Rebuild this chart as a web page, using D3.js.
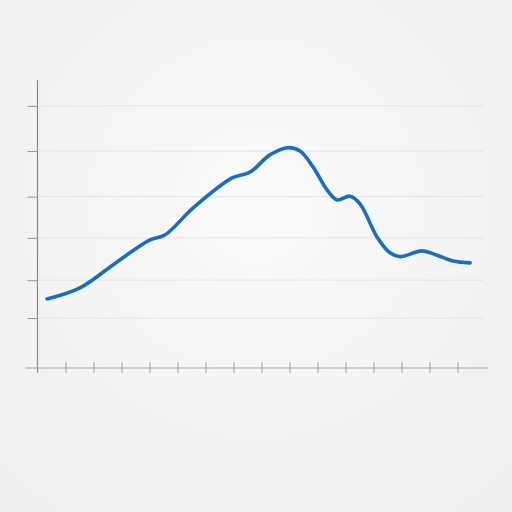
<!DOCTYPE html>
<html><head><meta charset="utf-8">
<script src="https://cdn.jsdelivr.net/npm/d3@7"></script>
<style>html,body{margin:0;padding:0;background:#f6f6f6;}svg{display:block;}</style>
</head><body>
<svg id="c" width="512" height="512"></svg>
<script>
// Data (x in category units, y in value units)
const xValues = [0.34, 1.52, 2.84, 4.02, 4.55, 5.55, 6.95, 7.59, 8.3, 8.95, 9.375, 9.84, 10.34, 10.7, 11.16, 11.52, 12.125, 12.59, 12.95, 13.73, 14.27, 14.84, 15.45];
const yValues = [14.4, 16.7, 22.1, 26.7, 27.7, 33.3, 39.6, 40.8, 44.4, 45.9, 45.2, 41.9, 37.1, 35.0, 35.8, 34.2, 27.3, 24.0, 23.2, 24.4, 23.5, 22.3, 21.9];
const xTicks = [1,2,3,4,5,6,7,8,9,10,11,12,13,14,15];
const yTicks = [10.4, 18.3, 27.1, 35.7, 45.2, 54.6];

const svg = d3.select("#c");
const defs = svg.append("defs");
const g = defs.append("radialGradient").attr("id","bg").attr("cx","50%").attr("cy","40%").attr("r","75%");
g.append("stop").attr("offset","0%").attr("stop-color","#fafafa");
g.append("stop").attr("offset","100%").attr("stop-color","#efefef");
svg.append("rect").attr("width",512).attr("height",512).attr("fill","url(#bg)");

const x = d3.scaleLinear().domain([0,16]).range([37.5,485.5]);
const y = d3.scaleLinear().domain([0,60]).range([368,80]);

// gridlines
svg.append("g").selectAll("line").data(yTicks).join("line")
  .attr("x1",38).attr("x2",484)
  .attr("y1",d=>y(d)).attr("y2",d=>y(d))
  .attr("stroke","#e4e4e4").attr("stroke-width",1);

// y axis
const yAxis = d3.axisLeft(y).tickValues(yTicks).tickSize(10).tickFormat("");
const ya = svg.append("g").attr("transform","translate(37.5,0)").call(yAxis);
ya.select(".domain").remove();
ya.selectAll(".tick line").attr("stroke","#9a9a9a");
svg.append("line").attr("x1",37.5).attr("x2",37.5).attr("y1",y(60)).attr("y2",373)
  .attr("stroke","#8a8a8a").attr("stroke-width",1.2);

// x axis
const xAxis = d3.axisBottom(x).tickValues(xTicks).tickSize(0).tickFormat("");
const xa = svg.append("g").attr("transform","translate(0,368)").call(xAxis);
xa.select(".domain").remove();
xa.selectAll(".tick").append("line").attr("y1",-6).attr("y2",5).attr("stroke","#a0a0a0");
svg.append("line").attr("x1",26).attr("x2",488).attr("y1",368).attr("y2",368)
  .attr("stroke","#a8a8a8").attr("stroke-width",1.2);

// line
const pts = xValues.map((v,i)=>[v,yValues[i]]);
const line = d3.line().x(d=>x(d[0])).y(d=>y(d[1])).curve(d3.curveCatmullRom.alpha(0.5));
svg.append("path").datum(pts).attr("d",line)
  .attr("fill","none").attr("stroke","#1a6ebd").attr("stroke-width",3.6)
  .attr("stroke-linecap","round").attr("stroke-linejoin","round");
</script>
</body></html>
